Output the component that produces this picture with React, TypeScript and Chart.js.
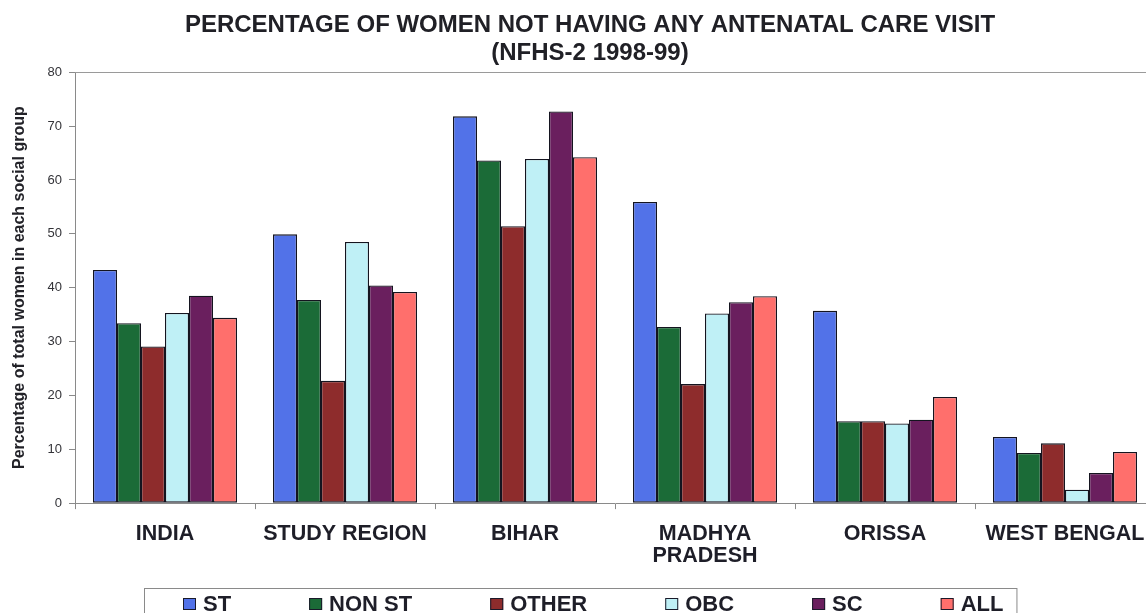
import React, { useEffect, useRef } from "react";
import { Chart, registerables } from "chart.js";

Chart.register(...registerables);

const categories: (string | string[])[] = ["INDIA", "STUDY REGION", "BIHAR", ["MADHYA", "PRADESH"], "ORISSA", "WEST BENGAL"];
const seriesNames = ["ST", "NON ST", "OTHER", "OBC", "SC", "ALL"];
const stValues = [43.3, 49.9, 71.8, 55.9, 35.7, 12.3];
const nonStValues = [33.4, 37.7, 63.6, 32.7, 15.2, 9.3];
const otherValues = [29.1, 22.7, 51.4, 22.1, 15.2, 11.1];
const obcValues = [35.3, 48.5, 63.9, 35.2, 14.8, 2.5];
const scValues = [38.5, 40.4, 72.7, 37.3, 15.5, 5.6];
const allValues = [34.4, 39.2, 64.2, 38.4, 19.7, 9.5];
const seriesColors = ["#5272E8", "#1B6B37", "#8E2C2C", "#BFF0F6", "#6A1F5E", "#FF6F6C"];
const yTicks = [0, 10, 20, 30, 40, 50, 60, 70, 80];

const FONT = "'Liberation Sans', Arial, Helvetica, sans-serif";

const topBorderPlugin = {
  id: "topBorder",
  afterDraw(chart: any) {
    const { ctx, chartArea } = chart;
    ctx.save();
    ctx.strokeStyle = "#9a9a9a";
    ctx.lineWidth = 1;
    ctx.beginPath();
    ctx.moveTo(chartArea.left, Math.round(chartArea.top) + 0.5);
    ctx.lineTo(chartArea.right, Math.round(chartArea.top) + 0.5);
    ctx.stroke();
    ctx.restore();
  },
};

const boxLegendPlugin = {
  id: "boxLegend",
  afterDraw(chart: any) {
    const { ctx } = chart;
    const datasets = chart.data.datasets;
    const boxLeft = 144;
    const boxTop = 588;
    const boxSize = 13;
    const textGap = 7;
    const itemGap = 78;
    ctx.save();
    ctx.font = `bold 22px ${FONT}`;
    ctx.textBaseline = "middle";
    ctx.textAlign = "left";
    let x = boxLeft + 39;
    const cy = 604;
    datasets.forEach((ds: any) => {
      ctx.fillStyle = ds.backgroundColor;
      ctx.fillRect(x, cy - 6, boxSize, boxSize - 1);
      ctx.strokeStyle = "#1a1a2a";
      ctx.lineWidth = 1;
      ctx.strokeRect(x + 0.5, cy - 6 + 0.5, boxSize - 1, boxSize - 2);
      ctx.fillStyle = "#1e1e28";
      const tx = x + boxSize + textGap;
      ctx.fillText(ds.label, tx, cy + 1);
      const w = ctx.measureText(ds.label).width;
      x = tx + w + itemGap;
    });
    const boxRight = x - itemGap + 13;
    ctx.strokeStyle = "#8a8a8a";
    ctx.lineWidth = 1;
    ctx.strokeRect(boxLeft + 0.5, boxTop + 0.5, boxRight - boxLeft, 40);
    ctx.restore();
  },
};

export default function App() {
  const canvasRef = useRef<HTMLCanvasElement | null>(null);

  useEffect(() => {
    if (!canvasRef.current) return;
    const values = [stValues, nonStValues, otherValues, obcValues, scValues, allValues];
    const chart = new Chart(canvasRef.current, {
      type: "bar",
      data: {
        labels: categories,
        datasets: seriesNames.map((name, i) => ({
          label: name,
          data: values[i],
          backgroundColor: seriesColors[i],
          borderColor: "#14141f",
          borderWidth: 1.3,
          borderSkipped: false,
          categoryPercentage: 0.8,
          barPercentage: 1.0,
        })),
      },
      options: {
        responsive: false,
        animation: false,
        layout: { padding: { left: 25, right: 25, top: 0, bottom: 44 } },
        plugins: {
          legend: { display: false },
          tooltip: { enabled: false },
          title: {
            display: true,
            text: ["PERCENTAGE OF WOMEN NOT HAVING ANY ANTENATAL CARE VISIT", "(NFHS-2 1998-99)"],
            color: "#202026",
            font: { family: FONT, size: 24, weight: "bold", lineHeight: 1.15 },
            padding: { top: 12, bottom: 5 },
          },
        },
        scales: {
          x: {
            grid: {
              display: true,
              drawOnChartArea: false,
              drawTicks: true,
              tickLength: 6,
              offset: true,
              color: "#8a8a8a",
            },
            border: { display: true, color: "#8a8a8a" },
            ticks: {
              color: "#1e1e28",
              font: { family: FONT, size: 21.5, weight: "bold", lineHeight: 1.02 },
              padding: 14,
              maxRotation: 0,
              autoSkip: false,
            },
          },
          y: {
            min: 0,
            max: 80,
            afterFit: (scale: any) => {
              scale.width = 50;
            },
            afterBuildTicks: (scale: any) => {
              scale.ticks = yTicks.map((v) => ({ value: v }));
            },
            grid: {
              display: true,
              drawOnChartArea: false,
              drawTicks: true,
              tickLength: 6,
              color: "#8a8a8a",
            },
            border: { display: true, color: "#8a8a8a" },
            ticks: {
              color: "#333338",
              font: { family: FONT, size: 13 },
              padding: 7,
            },
            title: {
              display: true,
              text: "Percentage of total women in each social group",
              color: "#222228",
              font: { family: FONT, size: 16, weight: "bold" },
              padding: { top: -15, bottom: 0 },
            },
          },
        },
      },
      plugins: [topBorderPlugin, boxLegendPlugin],
    });
    return () => chart.destroy();
  }, []);

  return (
    <div style={{ position: "fixed", left: 0, top: 0, width: 1146, height: 613, overflow: "hidden", background: "#fff" }}>
      <canvas ref={canvasRef} width={1180} height={625} />
    </div>
  );
}
